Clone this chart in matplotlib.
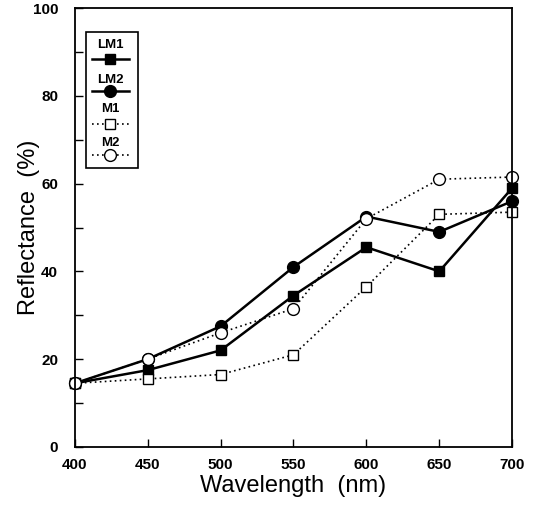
import matplotlib
matplotlib.use("Agg")
import matplotlib.pyplot as plt
from matplotlib.patches import Rectangle

# wavelength (nm) and reflectance (%)
wavelength = [400, 450, 500, 550, 600, 650, 700]
lm1 = [14.5, 17.5, 22.0, 34.5, 45.5, 40.0, 59.0]
lm2 = [14.5, 20.0, 27.5, 41.0, 52.5, 49.0, 56.0]
m1 = [14.5, 15.5, 16.5, 21.0, 36.5, 53.0, 53.5]
m2 = [14.5, 20.0, 26.0, 31.5, 52.0, 61.0, 61.5]

names = ["LM1", "LM2", "M1", "M2"]
styles = [
    dict(ls="-", lw=1.8, marker="s", ms=7.5, mfc="black", mec="black"),
    dict(ls="-", lw=1.8, marker="o", ms=8.5, mfc="black", mec="black"),
    dict(ls=(0, (1, 2)), lw=1.2, marker="s", ms=7.5, mfc="white", mec="black", mew=1.0),
    dict(ls=(0, (1, 2)), lw=1.2, marker="o", ms=8.5, mfc="white", mec="black", mew=1.0),
]

plt.rcParams["font.family"] = ["Liberation Sans", "DejaVu Sans"]

fig = plt.figure(figsize=(5.42, 5.05), dpi=100)
ax = fig.add_axes([0.138, 0.115, 0.807, 0.869])

for ys, st in zip([lm1, lm2, m1, m2], styles):
    ax.plot(wavelength, ys, color="black", clip_on=False, **st)

ax.set_xlim(400, 700)
ax.set_ylim(0, 100)
ax.set_xticks([400, 450, 500, 550, 600, 650, 700])
ax.set_yticks([0, 20, 40, 60, 80, 100])
ax.set_yticks([10, 30, 50, 70, 90], minor=True)
ax.tick_params(axis="both", which="both", direction="in", length=6, width=1.0,
               labelsize=11)
ax.tick_params(axis="x", pad=8)
ax.tick_params(axis="y", pad=12)
for lab in ax.get_xticklabels() + ax.get_yticklabels():
    lab.set_fontweight("bold")
for sp in ax.spines.values():
    sp.set_linewidth(1.3)

ax.set_xlabel("Wavelength  (nm)", fontsize=17, labelpad=2)
ax.set_ylabel("Reflectance  (%)", fontsize=17)
ax.yaxis.set_label_coords(-0.08, 0.5)

# legend drawn by hand: label above each sample line
box = Rectangle((0.025, 0.636), 0.119, 0.31, transform=ax.transAxes,
                fill=False, lw=1.2, ec="black")
ax.add_patch(box)
text_y = [0.917, 0.836, 0.770, 0.692]
line_y = [0.885, 0.810, 0.735, 0.665]
for name, st, ty, ly in zip(names, styles, text_y, line_y):
    ax.text(0.0805, ty, name, transform=ax.transAxes, ha="center", va="center",
            fontsize=9.5, fontweight="bold")
    ax.plot([0.04, 0.0805, 0.125], [ly, ly, ly], transform=ax.transAxes,
            color="black", markevery=[1], **st)

fig.savefig("out.png", dpi=100)
